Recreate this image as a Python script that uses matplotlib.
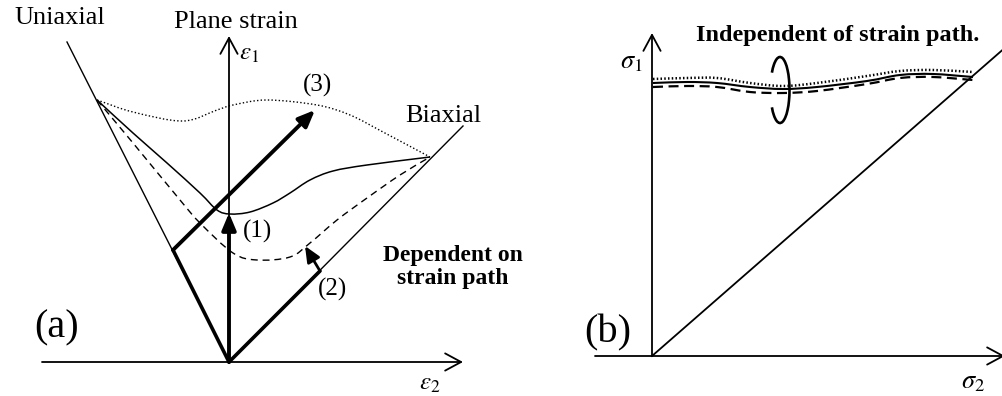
import numpy as np
import matplotlib
matplotlib.use("Agg")
import matplotlib.pyplot as plt
from matplotlib.path import Path
from matplotlib.patches import PathPatch, Arc

plt.rcParams["font.family"] = ["Liberation Serif", "DejaVu Serif"]
plt.rcParams["mathtext.fontset"] = "stix"

# ---------------- panel (a): forming limit curves in strain space ----------------
# points are (eps2, eps1) in drawing units, origin at the corner of the axes
uniaxial_end = (-162, 320)
biaxial_end = (234, 236)

flc_path3 = [(-132, 262), (-96, 250), (-46, 241), (-12, 252), (4, 257), (38, 262),
             (88, 257), (121, 247), (154, 230), (201, 205)]
flc_path1 = [(-132, 262), (-96, 229), (-62, 199), (-29, 169), (-12, 152), (1, 148),
             (21, 150), (44, 159), (61, 169), (81, 182), (104, 191), (138, 197), (201, 205)]
flc_path2 = [(-132, 262), (-96, 219), (-49, 162), (-29, 139), (4, 109), (28, 102),
             (61, 105), (81, 119), (108, 142), (138, 164), (171, 187), (201, 205)]

# strain paths: pre-strain corner and end of the arrow
path1_tip = (0, 149)
path3_corner, path3_tip = (-56, 112), (86, 252)
path2_corner, path2_tip = (91, 91), (76, 116)

# ---------------- panel (b): forming limit curves in stress space ----------------
flsc_x = [1, 35, 65, 98, 131, 165, 215, 248, 281, 321]
flsc_dotted = [277, 278, 278, 273, 270, 273, 280, 285, 286, 284]
flsc_solid = [273, 274, 273, 269, 267, 269, 275, 281, 282, 279]
flsc_dashed = [269, 270, 269, 264, 263, 265, 272, 278, 279, 276]
diag_end = (355, 310)


def smooth_path(pts):
    """Catmull-Rom through the points, expressed as cubic Bezier segments."""
    p = np.asarray(pts, float)
    ext = np.vstack([2 * p[0] - p[1], p, 2 * p[-1] - p[-2]])
    verts = [tuple(p[0])]
    codes = [Path.MOVETO]
    for i in range(1, len(ext) - 2):
        p0, p1, p2, p3 = ext[i - 1], ext[i], ext[i + 1], ext[i + 2]
        c1 = p1 + (p2 - p0) / 6.0
        c2 = p2 - (p3 - p1) / 6.0
        verts += [tuple(c1), tuple(c2), tuple(p2)]
        codes += [Path.CURVE4] * 3
    return Path(verts, codes)


def curve(ax, pts, **kw):
    ax.add_patch(PathPatch(smooth_path(pts), fill=False, capstyle="butt", **kw))


def axis_arrow(ax, start, end):
    ax.annotate("", xy=end, xytext=start, annotation_clip=False,
                arrowprops=dict(arrowstyle="->,head_length=1.15,head_width=0.62",
                                mutation_scale=10, lw=1.3, color="black",
                                shrinkA=0, shrinkB=0))


def bold_arrow(ax, start, end, lw=2.8, hl=1.0, hw=0.42):
    ax.annotate("", xy=end, xytext=start, annotation_clip=False,
                arrowprops=dict(arrowstyle=f"-|>,head_length={hl},head_width={hw}",
                                mutation_scale=10, lw=lw, color="black",
                                shrinkA=0, shrinkB=0))


fig = plt.figure(figsize=(10.03, 3.96), dpi=100)

ax = fig.add_axes([0, 0, 500 / 1003, 1])
ax.set_xlim(-229, 271)
ax.set_ylim(-34, 362)
ax.set_aspect("equal")
ax.axis("off")

axis_arrow(ax, (-187, 0), (234, 0))
axis_arrow(ax, (0, 0), (0, 326))
ax.plot([0, uniaxial_end[0]], [0, uniaxial_end[1]], color="black", lw=1.0)
ax.plot([0, biaxial_end[0]], [0, biaxial_end[1]], color="black", lw=1.0)

curve(ax, flc_path3, color="black", lw=1.0, linestyle=(0, (1, 1.6)))
curve(ax, flc_path1, color="black", lw=1.1)
curve(ax, flc_path2, color="black", lw=1.0, linestyle=(0, (5, 3.5)))

# path (1): straight plane strain
bold_arrow(ax, (0, 0), path1_tip)
# path (3): uniaxial pre-strain then equibiaxial
ax.plot([0, path3_corner[0]], [0, path3_corner[1]], color="black", lw=2.6,
        solid_capstyle="round")
bold_arrow(ax, path3_corner, path3_tip)
# path (2): equibiaxial pre-strain then uniaxial
ax.plot([0, path2_corner[0]], [0, path2_corner[1]], color="black", lw=2.6,
        solid_capstyle="round")
bold_arrow(ax, path2_corner, path2_tip, lw=2.0, hl=0.95, hw=0.42)

ax.text(-169, 344, "Uniaxial", fontsize=19, ha="center", va="center")
ax.text(7, 340, "Plane strain", fontsize=19, ha="center", va="center")
ax.text(214, 240, "Biaxial", fontsize=19, ha="center", va="baseline")
ax.text(89, 277, "(3)", fontsize=18, ha="center", va="center")
ax.text(29, 131, "(1)", fontsize=18, ha="center", va="center")
ax.text(104, 73, "(2)", fontsize=18, ha="center", va="center")
ax.text(-172, 34, "(a)", fontsize=29, ha="center", va="center")
ax.text(224, 95, "Dependent on\nstrain path", fontsize=17, fontweight="bold",
        ha="center", va="center", linespacing=1.08)
ax.text(20, 308, r"$\varepsilon_1$", fontsize=18, ha="center", va="center")
ax.text(201, -22, r"$\varepsilon_2$", fontsize=18, ha="center", va="center")

# ---------------- panel (b) ----------------
bx = fig.add_axes([500 / 1003, 0, 503 / 1003, 1])
bx.set_xlim(-152, 351)
bx.set_ylim(-40, 356)
bx.set_aspect("equal")
bx.axis("off")

axis_arrow(bx, (-57, 0), (353, 0))
axis_arrow(bx, (0, 0), (0, 323))
bx.plot([0, diag_end[0]], [0, diag_end[1]], color="black", lw=1.3)

curve(bx, list(zip(flsc_x, flsc_dotted)), color="black", lw=1.8, linestyle=(0, (0.6, 0.9)))
curve(bx, list(zip(flsc_x, flsc_solid)), color="black", lw=1.5)
curve(bx, list(zip(flsc_x, flsc_dashed)), color="black", lw=1.6, linestyle=(0, (4.5, 2.5)))

# rotation mark around the curves, open on its left side
bx.add_patch(Arc((128, 266), 19, 66, theta1=-115, theta2=115, color="black", lw=1.9))

bx.text(186, 321, "Independent of strain path.", fontsize=17.5, fontweight="bold",
        ha="center", va="center")
bx.text(-21, 293, r"$\sigma_1$", fontsize=19, ha="center", va="center")
bx.text(321, -27, r"$\sigma_2$", fontsize=19, ha="center", va="center")
bx.text(-44, 23, "(b)", fontsize=29, ha="center", va="center")

fig.savefig("out.png", dpi=100)
